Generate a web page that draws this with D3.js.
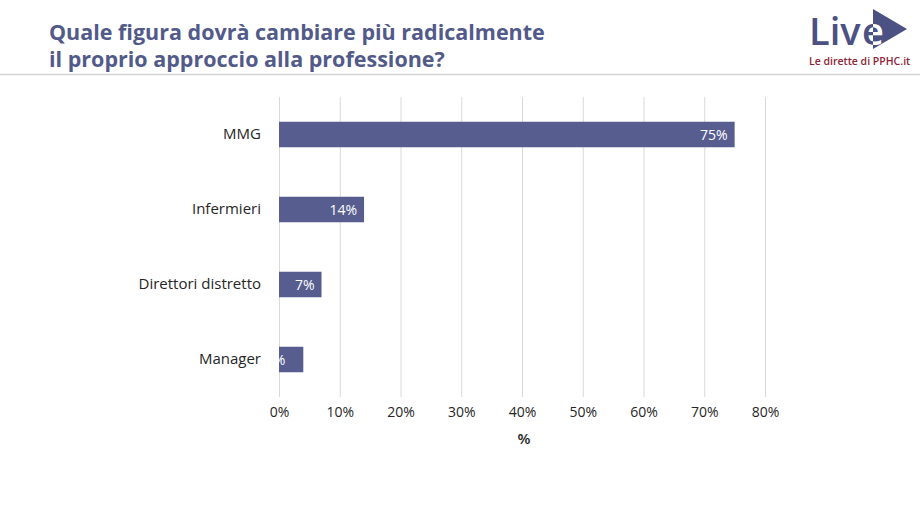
<!DOCTYPE html>
<html>
<head>
<meta charset="utf-8">
<script src="https://cdn.jsdelivr.net/npm/d3@7"></script>
<style>
  body { margin: 0; background: #fff; }
  svg { display: block; font-family: "Open Sans", "Noto Sans", sans-serif; }
</style>
</head>
<body>
<div id="chart"></div>
<script>
const categories = ['MMG', 'Infermieri', 'Direttori distretto', 'Manager'];
const values = [75, 14, 7, 4];
const xTicks = [0, 10, 20, 30, 40, 50, 60, 70, 80];
const titleLines = ['Quale figura dovrà cambiare più radicalmente', 'il proprio approccio alla professione?'];

const width = 920, height = 518;
const margin = {top: 97, left: 279, right: 155, bottom: 121};
const plotW = width - margin.left - margin.right;
const plotH = height - margin.top - margin.bottom;

const barColor = '#575e8f';
const titleColor = '#525a8a';
const logoColor = '#4b5283';

const svg = d3.select('#chart').append('svg')
  .attr('width', width)
  .attr('height', height);
const defs = svg.append('defs');

// ---------------------------------------------------------------------------
// HEADER
// ---------------------------------------------------------------------------
svg.append('text')
  .attr('x', 49)
  .attr('y', 40)
  .attr('fill', titleColor)
  .attr('font-size', 21.5)
  .attr('font-weight', 700)
  .selectAll('tspan').data(titleLines).enter()
  .append('tspan')
    .attr('x', 49)
    .attr('dy', (d, i) => i ? 27 : 0)
    .text(d => d);

svg.append('line')
  .attr('x1', 0).attr('x2', width)
  .attr('y1', 74.5).attr('y2', 74.5)
  .attr('stroke', '#d4d4d4')
  .attr('stroke-width', 1.5);

// logo: "Live" with the play triangle behind the "e"
const triPath = 'M873,9 L907,29 L873,49 Z';
defs.append('clipPath').attr('id', 'tri').append('path').attr('d', triPath);

const logo = svg.append('g').attr('class', 'logo');
logo.append('path').attr('d', triPath).attr('fill', logoColor);
const logoText = [
  {t: 'Liv', x: 809, fill: logoColor, clip: null},
  {t: 'e', x: 862, fill: logoColor, clip: null},
  {t: 'e', x: 862, fill: '#fff', clip: 'url(#tri)'},
];
logo.selectAll('.logo-word').data(logoText).enter()
  .append('text')
    .attr('class', 'logo-word')
    .attr('x', d => d.x).attr('y', 45)
    .attr('font-size', 38)
    .attr('font-weight', 600)
    .attr('fill', d => d.fill)
    .attr('clip-path', d => d.clip)
    .text(d => d.t);
logo.append('text')
  .attr('x', 809).attr('y', 65)
  .attr('font-size', 10.5)
  .attr('font-weight', 600)
  .attr('fill', '#8c2537')
  .text('Le dirette di PPHC.it');

// ---------------------------------------------------------------------------
// SCALES
// ---------------------------------------------------------------------------
const x = d3.scaleLinear().domain([0, 80]).range([0, plotW]);
const y = d3.scaleBand().domain(categories).range([0, plotH]).paddingInner(0.66).paddingOuter(0.33);

const g = svg.append('g').attr('transform', `translate(${margin.left},${margin.top})`);

// gridlines
g.append('g').selectAll('line').data(xTicks).enter()
  .append('line')
    .attr('x1', d => x(d) + 0.5).attr('x2', d => x(d) + 0.5)
    .attr('y1', 0).attr('y2', plotH)
    .attr('stroke', '#d9d9d9')
    .attr('stroke-width', 1);

// bars
g.append('g').selectAll('rect').data(values).enter()
  .append('rect')
    .attr('x', 0)
    .attr('y', (d, i) => y(categories[i]))
    .attr('width', d => x(d))
    .attr('height', y.bandwidth())
    .attr('fill', barColor);

// value labels clipped to their bar (short bars push the label past the start)
values.forEach((v, i) => {
  defs.append('clipPath').attr('id', 'clip' + i)
    .append('rect')
      .attr('x', 0).attr('y', y(categories[i]))
      .attr('width', x(v)).attr('height', y.bandwidth());
});
g.append('g').selectAll('text').data(values).enter()
  .append('text')
    .attr('clip-path', (d, i) => `url(#clip${i})`)
    .attr('x', d => x(d) < 30 ? x(d) - 18 : x(d) - 7)
    .attr('y', (d, i) => y(categories[i]) + y.bandwidth() / 2)
    .attr('dy', '0.36em')
    .attr('text-anchor', 'end')
    .attr('font-size', 14)
    .attr('fill', '#fff')
    .text(d => d + '%');

// y axis labels
const yAxis = g.append('g').call(d3.axisLeft(y).tickSize(0).tickPadding(18));
yAxis.select('.domain').remove();
yAxis.selectAll('.tick text')
  .attr('font-family', '"Open Sans", "Noto Sans", sans-serif')
  .attr('font-size', 15)
  .attr('fill', '#262626');

// x axis labels
const xAxis = g.append('g')
  .attr('transform', `translate(0,${plotH})`)
  .call(d3.axisBottom(x).tickValues(xTicks).tickSize(0).tickPadding(10).tickFormat(d => d + '%'));
xAxis.select('.domain').remove();
xAxis.selectAll('.tick text')
  .attr('font-family', '"Open Sans", "Noto Sans", sans-serif')
  .attr('font-size', 14)
  .attr('fill', '#262626');

svg.append('text')
  .attr('x', margin.left + x(40) + 2)
  .attr('y', 444)
  .attr('text-anchor', 'middle')
  .attr('font-size', 15)
  .attr('font-weight', 600)
  .attr('fill', '#262626')
  .text('%');
</script>
</body>
</html>
